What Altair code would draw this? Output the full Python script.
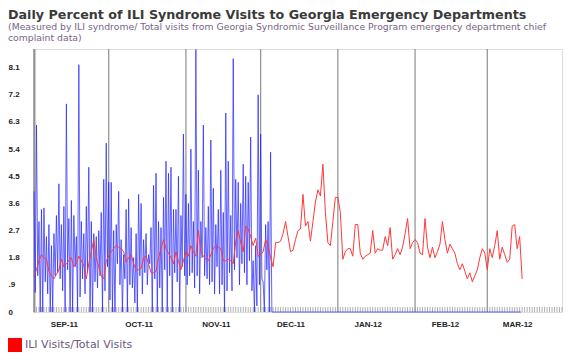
import altair as alt
import pandas as pd

# ---------------- data ----------------
title_text = "Daily Percent of ILI Syndrome Visits to Georgia Emergency Departments"
subtitle_lines = [
    "(Measured by ILI syndrome/ Total visits from Georgia Syndromic Surveillance Program emergency department chief",
    "complaint data)",
]
legend_label = "ILI Visits/Total Visits"

series_start = "2011-09-01"

# red series: daily ILI visits / total visits (%), Sep 1 2011 onward
red_values = [
    1.2, 1.4, 1.7, 1.9, 1.8, 1.75, 1.35, 1.2, 1.1, 1.25,
    1.4, 1.75, 1.5, 1.6, 1.7, 1.8, 1.5, 1.6, 1.85, 1.7,
    1.55, 1.1, 1.6, 2.0, 2.4, 1.8, 1.5, 1.2, 1.1, 1.7,
    1.85, 2.0, 2.1, 2.2, 2.15, 2.1, 2.0, 1.65, 1.8, 1.9,
    1.6, 1.4, 1.4, 1.45, 1.8, 1.85, 1.6, 1.3, 1.3, 1.35,
    1.8, 2.1, 2.4, 2.1, 1.95, 1.8, 1.6, 2.0, 1.7, 1.4,
    1.7, 2.0, 1.85, 2.2, 2.0, 1.85, 2.7, 2.0, 1.85, 1.75,
    1.7, 1.9, 2.1, 2.2, 2.15, 2.1, 1.7, 1.7, 1.75, 1.7,
    1.6, 2.35, 2.7, 2.3, 2.0, 2.85, 2.75, 2.5, 2.2, 2.45,
    1.85, 1.9, 2.0, 2.4, 2.2, 1.8, 1.5, 2.3, 2.3, 2.35,
    2.6, 3.0, 2.5, 2.0, 2.05, 2.4, 2.7, 2.75, 3.9, 2.85,
    3.0, 2.35, 3.0, 3.65, 4.05, 3.85, 4.9, 3.3, 2.3, 2.2,
    3.0, 3.8, 3.8, 3.3, 1.75, 2.0, 2.1, 2.1, 1.85, 2.9,
    2.9, 1.95, 1.75, 1.85, 1.9, 1.95, 2.7, 1.95, 2.1, 2.05,
    2.05, 2.5, 2.2, 2.8, 1.75, 1.9, 2.1, 1.9, 2.15, 2.6,
    3.1, 2.1, 2.3, 2.4, 2.3, 1.95, 1.9, 3.1, 2.15, 1.8,
    2.15, 1.8, 2.0, 2.25, 3.0, 2.4, 1.95, 2.25, 2.1, 1.95,
    1.6, 1.4, 1.6, 1.35, 1.1, 1.3, 1.0, 1.2, 1.4, 1.8,
    2.1, 1.95, 1.4, 2.1, 1.8, 2.2, 2.7, 1.75, 2.15, 1.9,
    1.65, 1.75, 2.85, 2.9, 2.1, 2.5, 1.1,
]

# blue series: twice-daily readings (high, then low half a day later)
blue_high = [
    4.0, 6.2, 3.0, 3.4, 3.45, 2.5, 2.9, 2.2, 2.6, 3.2,
    4.25, 2.9, 3.5, 6.9, 3.1, 3.7, 3.2, 2.5, 8.2, 3.0,
    2.6, 3.5, 4.8, 3.0, 2.6, 2.5, 2.7, 3.3, 4.4, 5.6,
    4.3, 4.3, 2.7, 2.9, 4.0, 2.4, 1.9, 3.4, 3.75, 2.8,
    1.8, 2.6, 3.9, 3.6, 2.4, 2.6, 1.9, 2.8, 4.2, 4.6,
    3.0, 2.8, 3.8, 5.0, 4.6, 4.8, 3.4, 3.4, 4.5, 3.2,
    5.9, 3.9, 3.6, 5.4, 3.0, 8.7, 4.7, 3.0, 6.2, 2.8,
    3.5, 5.7, 4.1, 2.9, 3.4, 4.7, 3.3, 6.6, 5.0, 3.2,
    8.4, 4.4, 4.3, 3.6, 4.9, 4.5, 4.3, 5.8, 1.7, 2.2,
    7.2, 5.9, 1.0, 2.9, 3.0, 5.3, 0.0,
]
blue_low = [
    0.65, 1.2, 0.0, 0.0, 1.0, 0.6, 0.0, 0.0, 1.2, 1.3,
    1.1, 0.7, 0.0, 1.4, 0.0, 0.0, 1.5, 0.0, 0.5, 1.1,
    0.6, 1.3, 0.0, 0.0, 1.0, 0.8, 1.2, 0.0, 0.7, 1.5,
    0.4, 0.0, 0.0, 1.6, 0.9, 0.0, 1.1, 0.0, 0.9, 0.8,
    0.3, 0.0, 1.2, 0.6, 1.3, 0.9, 1.6, 0.0, 1.1, 0.0,
    0.8, 0.0, 1.4, 0.0, 1.2, 0.0, 1.3, 1.0, 0.0, 1.5,
    1.2, 0.9, 1.2, 1.3, 0.8, 1.2, 0.6, 1.8, 1.2, 1.1,
    0.9, 1.0, 0.6, 1.5, 0.6, 0.9, 0.0, 0.7, 1.3, 0.7,
    1.4, 1.8, 0.9, 1.6, 1.3, 0.9, 1.7, 0.7, 0.0, 0.2,
    0.9, 1.1, 0.0, 1.4, 0.0, 0.0, 0.0,
]
blue_tail_date = "2012-03-14T12:00:00"
blue_tail_value = 0.0

month_starts = ["2011-09-01", "2011-10-01", "2011-11-01", "2011-12-01",
                "2012-01-01", "2012-02-01", "2012-03-01"]
month_label_dates = [(2011, 9), (2011, 10), (2011, 11), (2011, 12),
                     (2012, 1), (2012, 2), (2012, 3)]
x_domain = ["2011-09-01T00:00:00", "2012-03-31T00:00:00"]
y_ticks = [0, 0.9, 1.8, 2.7, 3.6, 4.5, 5.4, 6.3, 7.2, 8.1]
y_max = 8.72

# ---------------- tables ----------------
fmt = "%Y-%m-%dT%H:%M:%S"
t0 = pd.Timestamp(series_start)
red_df = pd.DataFrame({
    "date": [(t0 + pd.Timedelta(days=i)).strftime(fmt) for i in range(len(red_values))],
    "value": red_values,
    "series": legend_label,
})

blue_rows = []
for i, (h, l) in enumerate(zip(blue_high, blue_low)):
    blue_rows.append({"date": (t0 + pd.Timedelta(days=i)).strftime(fmt), "value": h})
    blue_rows.append({"date": (t0 + pd.Timedelta(days=i, hours=12)).strftime(fmt), "value": l})
blue_rows.append({"date": blue_tail_date, "value": blue_tail_value})
blue_df = pd.DataFrame(blue_rows)

months_df = pd.DataFrame({"date": [m + "T00:00:00" for m in month_starts]})
days_df = pd.DataFrame({"date": [d.strftime(fmt) for d in
                                 pd.date_range(x_domain[0], x_domain[1], freq="D")]})

W, H = 528, 263

x_scale = alt.Scale(domain=x_domain)
y_scale = alt.Scale(domain=[0, y_max], nice=False)

x_axis = alt.Axis(
    values=[alt.DateTime(year=y, month=m, date=13) for (y, m) in month_label_dates],
    labelExpr="upper(timeFormat(datum.value, '%b-%y'))",
    ticks=False, tickSize=0, grid=False, domain=False,
    labelPadding=8, labelFont="Liberation Sans", labelFontSize=8,
    labelFontWeight="bold", labelColor="#222222", title=None,
)
y_axis = alt.Axis(
    values=y_ticks,
    labelExpr="datum.value == 0 ? '0' : (datum.value < 1 ? '.9' : format(datum.value, '.1f'))",
    ticks=False, tickSize=0, grid=False,
    domainColor="#999999", domainWidth=2,
    labelAlign="left", labelBaseline="middle", labelPadding=26,
    labelFont="Liberation Sans", labelFontSize=8, labelFontWeight="bold",
    labelColor="#222222", title=None,
)

X = alt.X("date:T", scale=x_scale, axis=x_axis)
Y = alt.Y("value:Q", scale=y_scale, axis=y_axis)

month_rules = alt.Chart(months_df).mark_rule(color="#8f8f8f", strokeWidth=1.2).encode(
    x=X,
)

day_ticks = alt.Chart(days_df).mark_rule(color="#9a9a9a", strokeWidth=0.8).encode(
    x=X,
    y=alt.value(H - 5),
    y2=alt.value(H),
)

blue_line = alt.Chart(blue_df).mark_line(
    color="#2424ff", strokeWidth=1.0, opacity=0.7
).encode(x=X, y=Y)

red_line = alt.Chart(red_df).mark_line(strokeWidth=1.0).encode(
    x=X,
    y=Y,
    color=alt.Color(
        "series:N",
        scale=alt.Scale(range=["#ff3838"]),
        legend=alt.Legend(
            title=None, orient="none", legendX=-26, legendY=289,
            symbolType="square", symbolSize=196, symbolFillColor="#ff0000",
            symbolStrokeColor="#ff0000", symbolStrokeWidth=0, symbolOpacity=1,
            labelFont="DejaVu Sans", labelFontSize=11, labelColor="#6a5a78",
            labelOffset=3,
        ),
    ),
)

chart = alt.layer(month_rules, day_ticks, blue_line, red_line).properties(
    width=W,
    height=H,
    title=alt.TitleParams(
        text=title_text,
        subtitle=subtitle_lines,
        anchor="start",
        frame="bounds",
        font="DejaVu Sans",
        fontSize=12.7,
        fontWeight="bold",
        color="#3a3a3a",
        subtitleFont="DejaVu Sans",
        subtitleFontSize=9.3,
        subtitleColor="#7a6388",
        subtitleLineHeight=11,
        subtitlePadding=2,
        offset=4,
    ),
).configure_view(stroke="#bbbbbb", strokeWidth=1).configure(
    padding=0, background="white"
)

chart.save("out.html", embed_options={"renderer": "svg", "actions": False})
